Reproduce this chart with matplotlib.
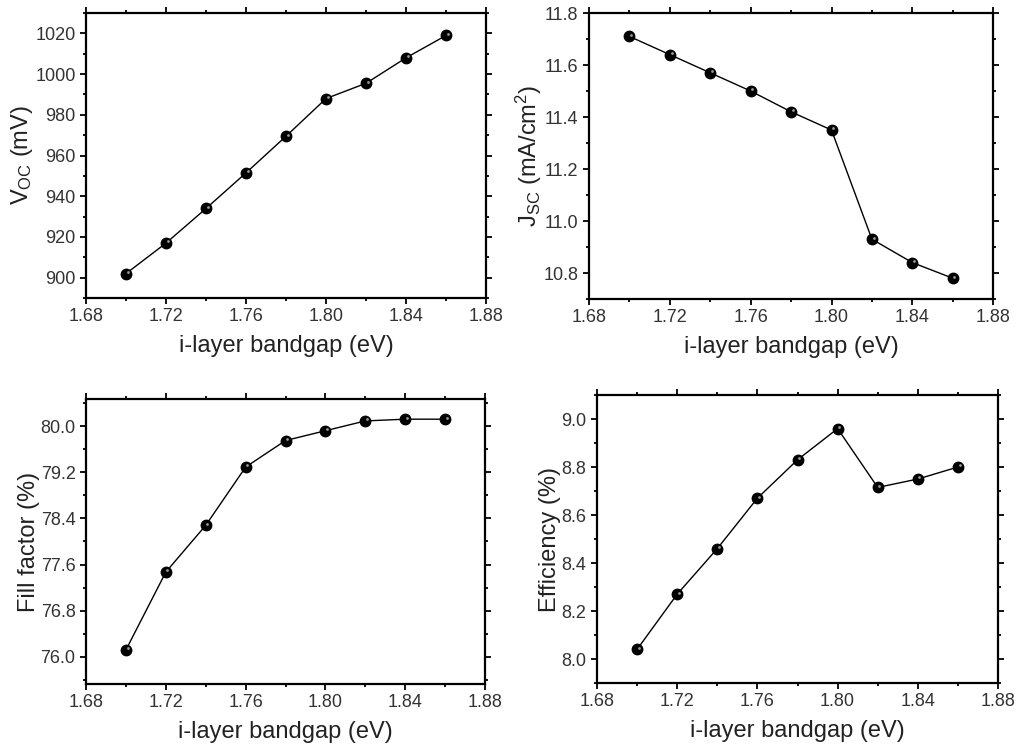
import matplotlib
matplotlib.use('Agg')
import matplotlib.pyplot as plt
from matplotlib.ticker import MultipleLocator, AutoMinorLocator

plt.rcParams['font.family'] = ['Liberation Sans', 'DejaVu Sans']
plt.rcParams['mathtext.default'] = 'regular'

# i-layer bandgap (eV)
bandgap = [1.70, 1.72, 1.74, 1.76, 1.78, 1.80, 1.82, 1.84, 1.86]
voc = [902, 917, 934, 951.5, 969.5, 988, 995.5, 1008, 1019]
jsc = [11.71, 11.64, 11.57, 11.50, 11.42, 11.35, 10.93, 10.84, 10.78]
ff = [76.12, 77.47, 78.28, 79.29, 79.75, 79.92, 80.09, 80.12, 80.12]
eff = [8.04, 8.27, 8.46, 8.67, 8.83, 8.96, 8.715, 8.75, 8.80]

panels = [
    (voc, r'V$_{OC}$ (mV)', (890, 1030), 20, [0.0845, 0.6021, 0.393, 0.3805], '%d'),
    (jsc, r'J$_{SC}$ (mA/cm$^{2}$)', (10.7, 11.8), 0.2, [0.5786, 0.6008, 0.397, 0.3818], '%.1f'),
    (ff, 'Fill factor (%)', (75.53, 80.47), 0.8, [0.0845, 0.0868, 0.392, 0.3805], '%.1f'),
    (eff, 'Efficiency (%)', (7.9, 9.1), 0.2, [0.5864, 0.0881, 0.394, 0.3845], '%.1f'),
]

fig = plt.figure(figsize=(10.18, 7.49), dpi=100)
hl = matplotlib.transforms.ScaledTranslation(1.2/72, 1.2/72, fig.dpi_scale_trans)

for vals, ylab, ylim, ystep, pos, fmt in panels:
    ax = fig.add_axes(pos)
    ax.plot(bandgap, vals, '-', color='black', lw=1.0, zorder=2)
    ax.plot(bandgap, vals, 'o', color='black', ms=7.5, mec='black', zorder=3)
    # small highlight to mimic the shaded spheres
    ax.plot(bandgap, vals, 'o', color='#9a9a9a', ms=2.0, mew=0, zorder=4,
            transform=ax.transData + hl)
    ax.set_xlim(1.68, 1.88)
    ax.set_ylim(*ylim)
    ax.xaxis.set_major_locator(MultipleLocator(0.04))
    ax.xaxis.set_minor_locator(AutoMinorLocator(2))
    ax.yaxis.set_major_locator(MultipleLocator(ystep))
    ax.yaxis.set_minor_locator(AutoMinorLocator(2))
    ax.xaxis.set_major_formatter(matplotlib.ticker.FormatStrFormatter('%.2f'))
    ax.yaxis.set_major_formatter(matplotlib.ticker.FormatStrFormatter(fmt))
    ax.tick_params(which='both', direction='out', top=True, right=True,
                   labeltop=False, labelright=False, width=1.3, colors='black',
                   labelcolor='#333333', labelsize=13)
    ax.tick_params(which='major', length=4.5, pad=3)
    ax.tick_params(which='minor', length=2.5)
    for s in ax.spines.values():
        s.set_linewidth(1.6)
    ax.set_xlabel('i-layer bandgap (eV)', fontsize=17, color='#222222', labelpad=7)
    ax.set_ylabel(ylab, fontsize=17, color='#222222', labelpad=0)

fig.savefig('out.png', dpi=100)
